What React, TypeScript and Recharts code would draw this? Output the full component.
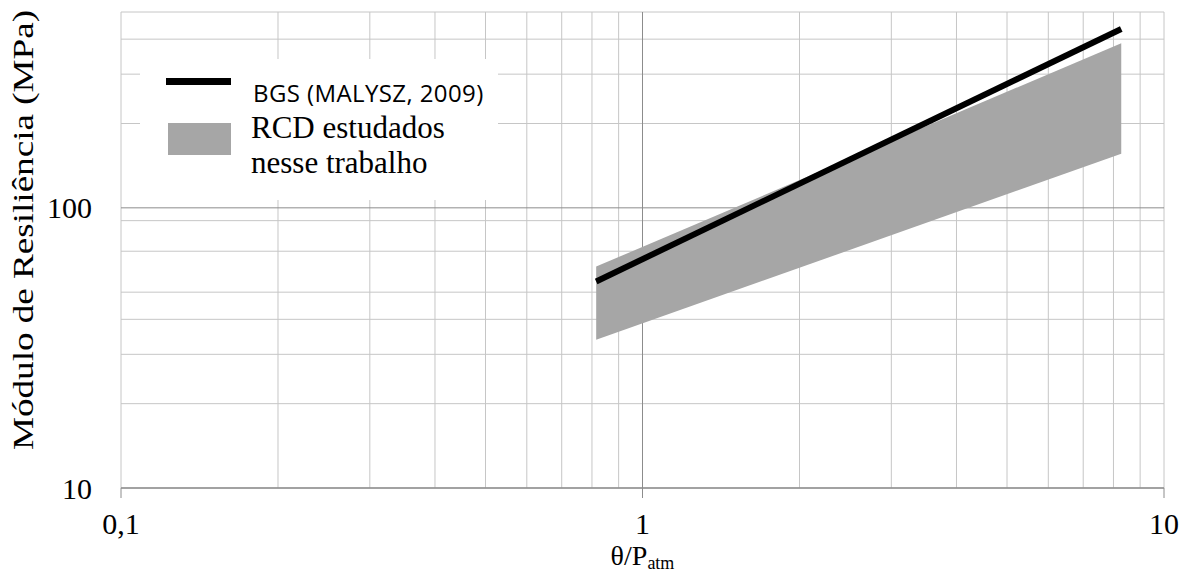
import React from 'react';
import { Area, CartesianGrid, ComposedChart, Legend, Line, XAxis, YAxis } from 'recharts';

// BGS reference curve (MALYSZ, 2009)
const bgsTheta = [0.815, 8.28];
const bgsMr = [54.6, 435];

// envelope of the RCD materials studied
const rcdTheta = [0.815, 8.28];
const rcdMrLow = [33.8, 156];
const rcdMrHigh = [61.7, 387];

const xTicks = [0.1, 1, 10];
const yTicks = [10, 100];
const xMinorGrid = [0.1, 0.2, 0.3, 0.4, 0.5, 0.6, 0.7, 0.8, 0.9, 2, 3, 4, 5, 6, 7, 8, 9, 10];
const yMinorGrid = [10, 20, 30, 40, 50, 60, 70, 80, 90, 200, 300, 400, 500];
const xMajorGrid = [1];
const yMajorGrid = [100];

const bgsData = bgsTheta.map((t, i) => ({ theta: t, mr: bgsMr[i] }));
const rcdData = rcdTheta.map((t, i) => ({ theta: t, band: [rcdMrLow[i], rcdMrHigh[i]] }));

const SERIF = '"Liberation Serif", "Times New Roman", serif';
const SANS = '"Open Sans", Calibri, sans-serif';

function LegendBox() {
  return (
    <div style={{ position: 'relative', width: 358, height: 141, background: '#fff' }}>
      <div style={{ position: 'absolute', left: 26, top: 19, width: 65, height: 7, background: '#000' }} />
      <div style={{ position: 'absolute', left: 28, top: 64, width: 63, height: 32, background: '#a6a6a6' }} />
      <div style={{ position: 'absolute', left: 113, top: 19, fontFamily: SANS, fontSize: 24, letterSpacing: 0.4, lineHeight: '30px', color: '#000', whiteSpace: 'nowrap' }}>
        BGS (MALYSZ, 2009)
      </div>
      <div style={{ position: 'absolute', left: 111, top: 51, fontFamily: SERIF, fontSize: 31, lineHeight: '35px', color: '#000', whiteSpace: 'nowrap' }}>
        RCD estudados
        <br />
        nesse trabalho
      </div>
    </div>
  );
}

export default function App() {
  return (
    <div style={{ position: 'absolute', left: 0, top: 0 }}>
      <ComposedChart width={1181} height={575} margin={{ top: 12, right: 17, bottom: 0, left: 0 }}>
        <CartesianGrid stroke="#c6c6c6" verticalValues={xMinorGrid} horizontalValues={yMinorGrid} />
        <CartesianGrid stroke="#8c8c8c" verticalValues={xMajorGrid} horizontalValues={yMajorGrid} />
        <XAxis
          dataKey="theta"
          type="number"
          scale="log"
          domain={[0.1, 10]}
          ticks={xTicks}
          allowDataOverflow
          height={87}
          tickFormatter={(v: number) => String(v).replace('.', ',')}
          tick={{ fontFamily: SERIF, fontSize: 30, fill: '#000' }}
          tickSize={10}
          tickMargin={15}
          tickLine={{ stroke: '#8c8c8c' }}
          axisLine={{ stroke: '#8c8c8c', strokeWidth: 1.5 }}
          label={({ viewBox }: any) => (
            <text x={viewBox.x + viewBox.width / 2} y={viewBox.y + 77} textAnchor="middle" fontFamily={SERIF} fontSize={28} fill="#000">
              <tspan>θ/P</tspan>
              <tspan fontSize={18} dy={4}>atm</tspan>
            </text>
          )}
        />
        <YAxis
          type="number"
          scale="log"
          domain={[10, 500]}
          ticks={yTicks}
          allowDataOverflow
          width={121}
          tick={{ fontFamily: SERIF, fontSize: 30, fill: '#000' }}
          tickSize={0}
          tickMargin={29}
          tickLine={false}
          axisLine={false}
          label={({ viewBox }: any) => (
            <text
              transform={`translate(${viewBox.x + 33}, ${viewBox.y + viewBox.height / 2 - 20}) rotate(-90)`}
              textAnchor="middle"
              textLength={440}
              lengthAdjust="spacingAndGlyphs"
              fontFamily={SERIF}
              fontSize={30}
              fill="#000"
            >
              Módulo de Resiliência (MPa)
            </text>
          )}
        />
        <Area
          data={rcdData}
          dataKey="band"
          type="linear"
          stroke="none"
          fill="#a6a6a6"
          fillOpacity={1}
          isAnimationActive={false}
        />
        <Line
          data={bgsData}
          dataKey="mr"
          type="linear"
          stroke="#000"
          strokeWidth={6}
          dot={false}
          isAnimationActive={false}
        />
        <Legend
          layout="vertical"
          align="center"
          verticalAlign="middle"
          content={() => <LegendBox />}
          wrapperStyle={{ position: 'absolute', left: 140, top: 59, width: 358, height: 141 }}
        />
      </ComposedChart>
    </div>
  );
}
